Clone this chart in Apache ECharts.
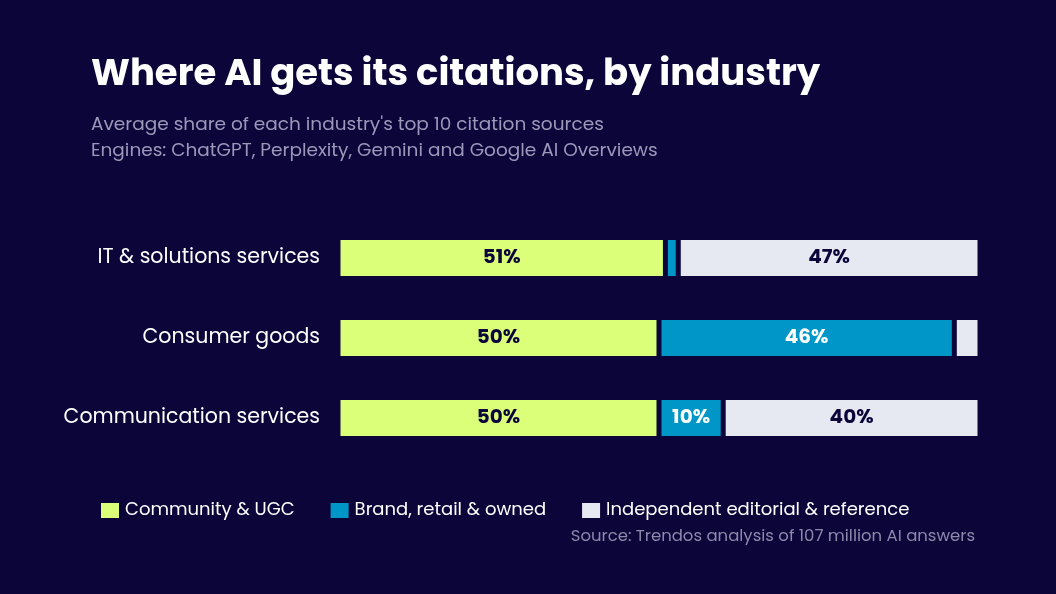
<!DOCTYPE html>
<html><head><meta charset="utf-8">
<script src="https://cdn.jsdelivr.net/npm/echarts@6/dist/echarts.min.js"></script>
<style>html,body{margin:0;background:#0c053a}#c{width:1056px;height:594px}</style>
</head><body><div id="c"></div>
<script>
// 数据
const categories = ['Communication services', 'Consumer goods', 'IT & solutions services'];
const community = [50, 50, 51];
const brand = [10, 46, 2];
const editorial = [40, 4, 47];
const seriesNames = ['Community & UGC', 'Brand, retail & owned', 'Independent editorial & reference'];

const chart = echarts.init(document.getElementById('c'));
const font = 'Poppins, Inter, "Noto Sans", sans-serif';

function lab(color) {
    return {
        show: true, position: 'inside', color: color, fontSize: 20, fontWeight: 'bold', fontFamily: font,
        formatter: p => p.value >= 8 ? p.value + '%' : ''
    };
}

const mk = (name, data, color, textColor) => ({
    name, type: 'bar', stack: 'all', data, barWidth: 41,
    itemStyle: { color, borderColor: '#0c053a', borderWidth: 2.5 },
    label: lab(textColor)
});

chart.setOption({
    backgroundColor: '#0c053a',
    title: [
        { text: 'Where AI gets its citations, by industry', left: 86, top: 52,
          textStyle: { color: '#fff', fontSize: 37, fontWeight: 'bold', fontFamily: font } },
        { text: "Average share of each industry's top 10 citation sources\nEngines: ChatGPT, Perplexity, Gemini and Google AI Overviews",
          left: 86, top: 107, textStyle: { color: '#9b98b9', fontSize: 18.5, lineHeight: 26, fontWeight: 'normal', fontFamily: font } },
        { text: 'Source: Trendos analysis of 107 million AI answers', right: 76, top: 523,
          textStyle: { color: '#8c89ab', fontSize: 16.5, fontWeight: 'normal', fontFamily: font } }
    ],
    legend: {
        left: 94, top: 496, itemWidth: 20, itemHeight: 17, itemGap: 34,
        icon: 'rect',
        textStyle: { color: '#fff', fontSize: 18, fontFamily: font }
    },
    grid: { left: 338, right: 76, top: 218, height: 240 },
    xAxis: { type: 'value', min: 0, max: 100, show: false },
    yAxis: {
        type: 'category', data: categories,
        axisLine: { show: false }, axisTick: { show: false },
        axisLabel: { color: '#fff', fontSize: 20.5, margin: 18, fontFamily: font }
    },
    series: [
        mk(seriesNames[0], community, '#dcff7a', '#0c053a'),
        mk(seriesNames[1], brand, '#0097c8', '#fff'),
        mk(seriesNames[2], editorial, '#e6e8f2', '#0c053a')
    ]
});
</script></body></html>
